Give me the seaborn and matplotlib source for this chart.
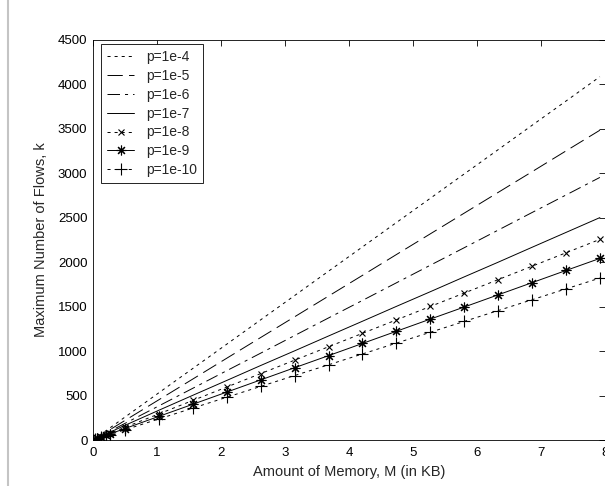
import matplotlib
matplotlib.use("Agg")
import matplotlib.pyplot as plt
from matplotlib.lines import Line2D
import pandas as pd
import seaborn as sns

# Memory sizes (KB) at which the flow capacity was evaluated
memory_kb = [0, 0.03, 0.07, 0.13, 0.2, 0.26, 0.5, 1.03, 1.56, 2.09, 2.62,
             3.15, 3.68, 4.21, 4.74, 5.27, 5.8, 6.33, 6.86, 7.39, 7.92]

# Maximum number of flows for each false-positive probability
flows_p1e4 = [0, 15, 36, 67, 103, 134, 258, 532, 805, 1078, 1352,
              1625, 1899, 2172, 2446, 2719, 2993, 3266, 3540, 3813, 4087]
flows_p1e5 = [0, 13, 31, 57, 88, 114, 220, 453, 686, 920, 1153,
              1386, 1619, 1852, 2086, 2319, 2552, 2785, 3018, 3252, 3485]
flows_p1e6 = [0, 11, 26, 48, 75, 97, 187, 384, 582, 780, 977,
              1175, 1373, 1570, 1768, 1966, 2163, 2361, 2559, 2756, 2954]
flows_p1e7 = [0, 10, 23, 43, 66, 86, 165, 335, 503, 670, 838,
              1003, 1170, 1336, 1503, 1668, 1835, 2000, 2168, 2335, 2502]
flows_p1e8 = [0, 9, 20, 37, 57, 74, 143, 294, 445, 596, 747,
              898, 1049, 1200, 1351, 1502, 1653, 1804, 1955, 2106, 2257]
flows_p1e9 = [0, 8, 18, 34, 52, 67, 129, 266, 402, 539, 676,
              813, 949, 1086, 1223, 1360, 1496, 1633, 1770, 1907, 2043]
flows_p1e10 = [0, 7, 16, 30, 46, 60, 115, 237, 359, 481, 603,
               725, 846, 968, 1090, 1212, 1334, 1456, 1578, 1700, 1822]

series_labels = ["p=1e-4", "p=1e-5", "p=1e-6", "p=1e-7",
                 "p=1e-8", "p=1e-9", "p=1e-10"]
series_values = [flows_p1e4, flows_p1e5, flows_p1e6, flows_p1e7,
                 flows_p1e8, flows_p1e9, flows_p1e10]

x_ticks = [0, 1, 2, 3, 4, 5, 6, 7, 8]
y_ticks = [0, 500, 1000, 1500, 2000, 2500, 3000, 3500, 4000, 4500]

rows = []
for lab, vals in zip(series_labels, series_values):
    for m, k in zip(memory_kb, vals):
        rows.append({"p": lab, "M": m, "k": k})
df = pd.DataFrame(rows)

sns.set_style("white")
plt.rcParams["font.family"] = ["Liberation Sans", "DejaVu Sans"]
plt.rcParams["lines.scale_dashes"] = False

# line style / marker for each probability
dotted = (0, (2.2, 2.9))
styles = {
    "p=1e-4": dict(linestyle=dotted, marker=None),
    "p=1e-5": dict(linestyle=(0, (11, 4.5)), marker=None),
    "p=1e-6": dict(linestyle=(0, (9, 3.6, 2.2, 3.6)), marker=None),
    "p=1e-7": dict(linestyle="-", marker=None),
    "p=1e-8": dict(linestyle=dotted, marker="x", markersize=4.5),
    "p=1e-9": dict(linestyle="-", marker=(8, 2, 0), markersize=7),
    "p=1e-10": dict(linestyle=dotted, marker="+", markersize=8.5),
}

fig = plt.figure(figsize=(6.05, 4.86), dpi=100)
ax = fig.add_axes([93 / 605, 1 - 440 / 486, 512 / 605, 400 / 486])

for lab in series_labels:
    st = styles[lab]
    sns.lineplot(data=df[df["p"] == lab], x="M", y="k", ax=ax,
                 color="black", linewidth=0.7, label=lab,
                 markeredgewidth=0.8, markeredgecolor="black",
                 markerfacecolor="black", **st)

ax.set_xlim(0, 8)
ax.set_ylim(0, 4500)
ax.set_xticks(x_ticks)
ax.set_yticks(y_ticks)
ax.tick_params(direction="in", length=4, width=0.6, top=True, right=True,
               labelsize=9.5, colors="black")
ax.tick_params(axis="x", pad=5)
ax.tick_params(axis="y", pad=4)
for sp in ax.spines.values():
    sp.set_visible(True)
    sp.set_color("black")
    sp.set_linewidth(0.6)

ax.set_xlabel("Amount of Memory, M (in KB)", fontsize=10.5, labelpad=4)
ax.set_ylabel("Maximum Number of Flows, k", fontsize=10.5, labelpad=7)

leg = ax.legend(loc="upper left", bbox_to_anchor=(8 / 512, 1 - 4 / 400),
                borderaxespad=0, fontsize=10, frameon=True, fancybox=False,
                framealpha=1, edgecolor="black", handlelength=1.95,
                handletextpad=0.86, labelspacing=0.35, borderpad=0.43)
leg.get_frame().set_linewidth(0.6)

# light border along the left edge of the figure
fig.add_artist(Line2D([7.5 / 605, 7.5 / 605], [0, 1], color="#c4c4c4",
                      linewidth=1.5, transform=fig.transFigure))

fig.savefig("out.png", dpi=100)
